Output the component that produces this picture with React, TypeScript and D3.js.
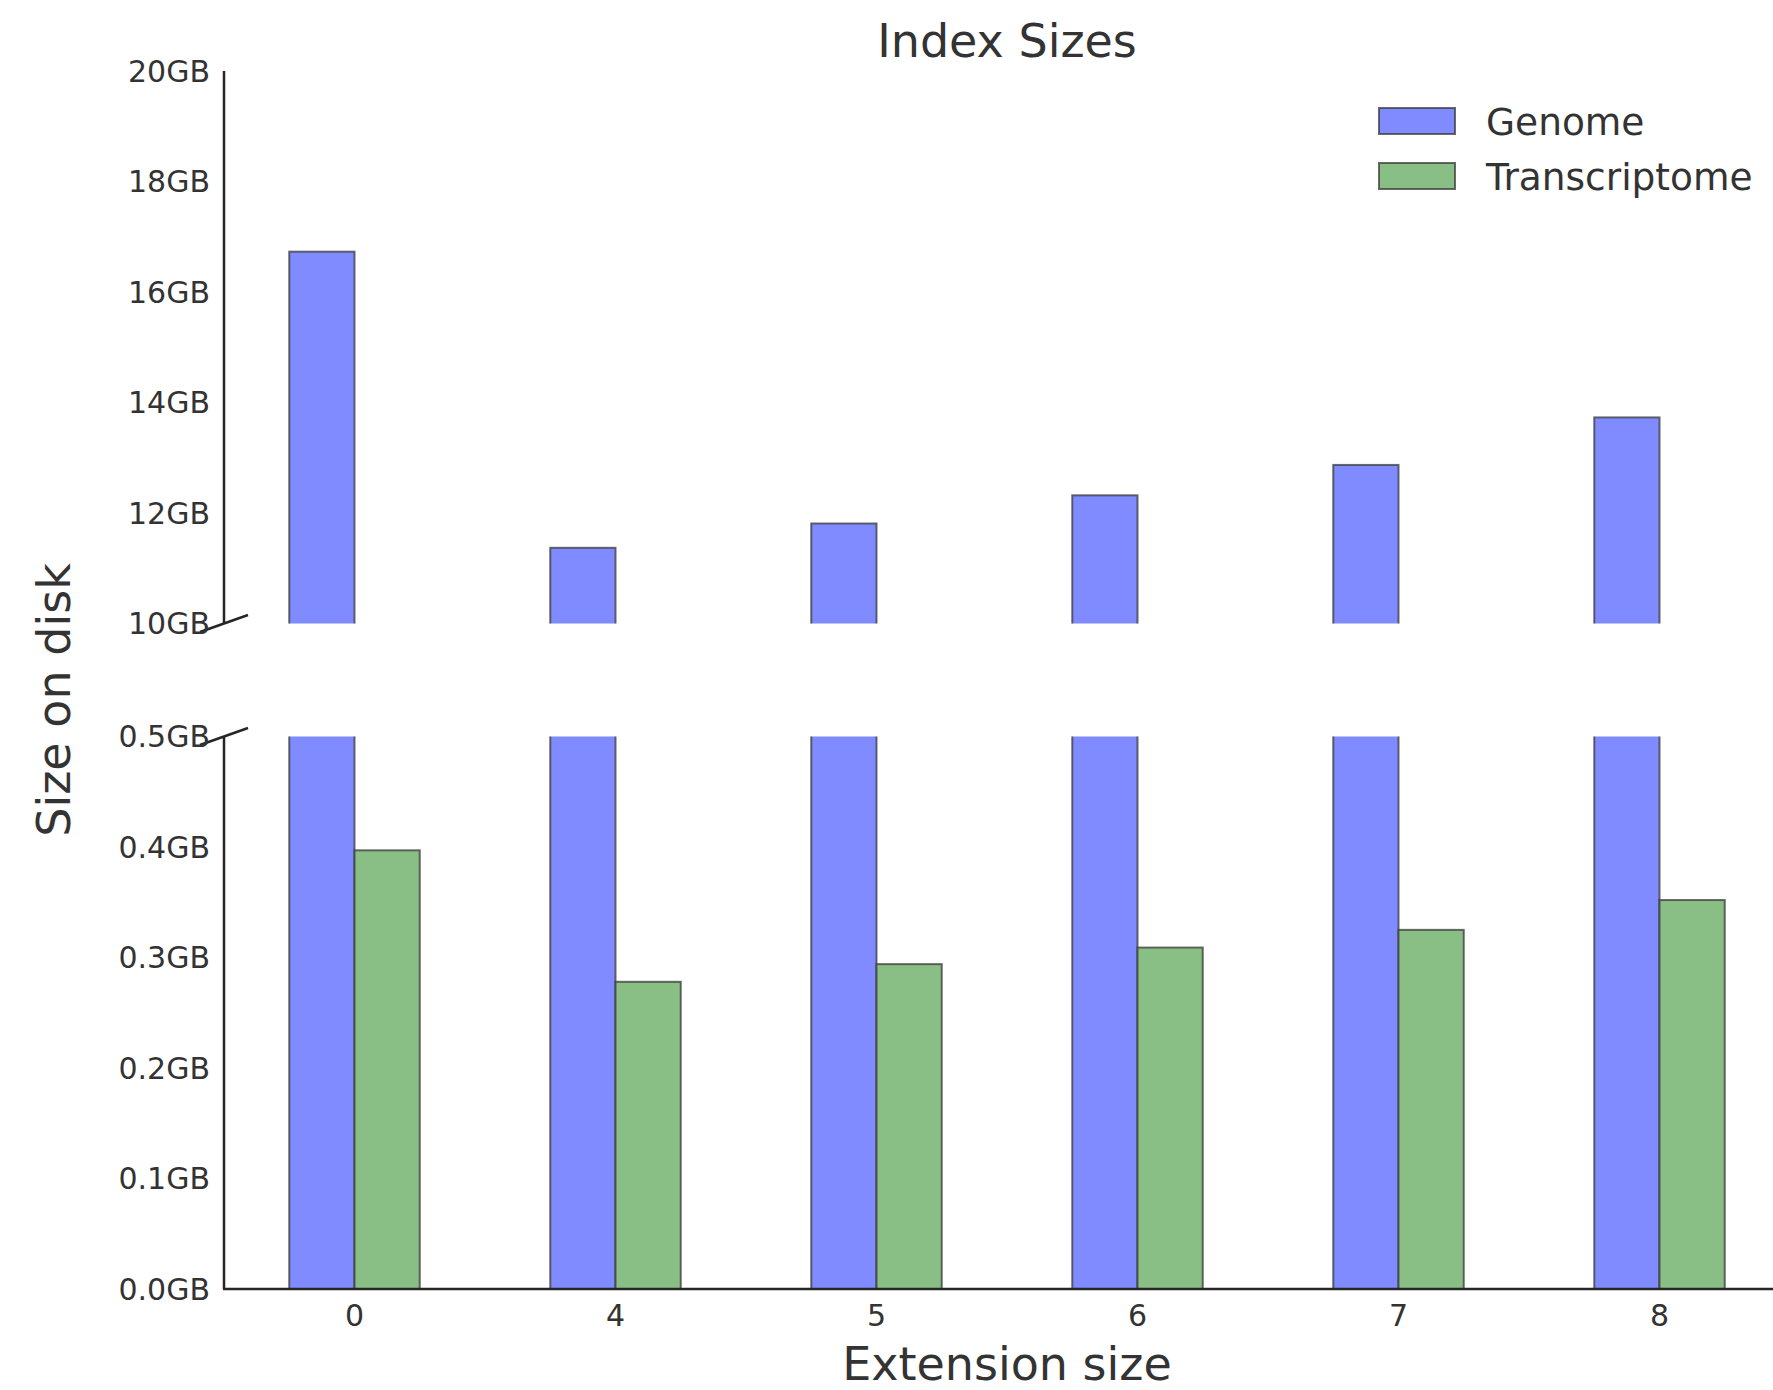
import React from "react";
import * as d3 from "d3";

// Extension sizes shown along the x axis
const categories: string[] = ["0", "4", "5", "6", "7", "8"];
// Index sizes in GB
const genomeGB: number[] = [16.73, 11.37, 11.81, 12.32, 12.87, 13.73];
const transcriptomeGB: number[] = [0.397, 0.278, 0.294, 0.309, 0.325, 0.352];
const seriesNames: string[] = ["Genome", "Transcriptome"];
const seriesColors: string[] = ["#7f8bff", "#89bf84"];
// Ticks for the two panels of the broken axis
const upperTicks: number[] = [10, 12, 14, 16, 18, 20];
const lowerTicks: number[] = [0, 0.1, 0.2, 0.3, 0.4, 0.5];

const W = 1773;
const H = 1390;
const FONT = "DejaVu Sans, Verdana, sans-serif";
const TEXT = "#333";
const AXIS = "#262626";

export default function App() {
  const left = 224;
  const step = 261;
  const x = d3
    .scaleBand<string>()
    .domain(categories)
    .range([left, left + step * categories.length])
    .paddingInner(0.5)
    .paddingOuter(0.25);
  const xs = d3.scaleBand<string>().domain(seriesNames).range([0, x.bandwidth()]);

  const upperTop = 71;
  const upperBottom = 623.5;
  const lowerTop = 736.5;
  const lowerBottom = 1289;
  const yUp = d3.scaleLinear().domain([10, 20]).range([upperBottom, upperTop]);
  const yLo = d3.scaleLinear().domain([0, 0.5]).range([lowerBottom, lowerTop]);

  const series = [genomeGB, transcriptomeGB];
  const fmtUp = (v: number) => `${d3.format("d")(v)}GB`;
  const fmtLo = (v: number) => `${d3.format(".1f")(v)}GB`;

  const bars = (y: d3.ScaleLinear<number, number>, clip: string) => (
    <g clipPath={`url(#${clip})`}>
      {categories.map((c, i) =>
        series.map((vals, s) => {
          const v = vals[i];
          const yTop = y(v);
          const yBase = y(0);
          const top = Math.min(yTop, yBase);
          const h = Math.abs(yBase - yTop);
          return (
            <rect
              key={`${c}-${s}`}
              x={(x(c) ?? 0) + (xs(seriesNames[s]) ?? 0)}
              y={top}
              width={xs.bandwidth()}
              height={h}
              fill={seriesColors[s]}
              stroke="#3a3a3a"
              strokeOpacity={0.75}
              strokeWidth={2}
            />
          );
        })
      )}
    </g>
  );

  const dx = 24;
  const dy = 8.5;
  const tickFont = 30;

  return (
    <svg
      width={W}
      height={H}
      style={{ position: "absolute", left: 0, top: 0, background: "#fff" }}
      fontFamily={FONT}
    >
      <defs>
        <clipPath id="clipUp">
          <rect x={left} y={upperTop - 5} width={W} height={upperBottom - upperTop + 5} />
        </clipPath>
        <clipPath id="clipLo">
          <rect x={left} y={lowerTop} width={W} height={lowerBottom - lowerTop + 5} />
        </clipPath>
      </defs>
      <rect width={W} height={H} fill="#fff" />

      <text x={1007} y={57} textAnchor="middle" fontSize={46} fill={TEXT}>
        Index Sizes
      </text>

      {bars(yUp, "clipUp")}
      {bars(yLo, "clipLo")}

      {/* y axes */}
      <line x1={left} x2={left} y1={upperTop} y2={upperBottom} stroke={AXIS} strokeWidth={2.5} />
      <line x1={left} x2={left} y1={lowerTop} y2={lowerBottom} stroke={AXIS} strokeWidth={2.5} />
      {/* x axis */}
      <line x1={left - 1} x2={W} y1={lowerBottom} y2={lowerBottom} stroke={AXIS} strokeWidth={2.5} />

      {/* break marks */}
      <line x1={left - dx} y1={upperBottom + dy} x2={left + dx} y2={upperBottom - dy} stroke={AXIS} strokeWidth={2.5} />
      <line x1={left - dx} y1={lowerTop + dy} x2={left + dx} y2={lowerTop - dy} stroke={AXIS} strokeWidth={2.5} />

      {upperTicks.map((t) => (
        <text key={`u${t}`} x={210} y={yUp(t)} dy="0.36em" textAnchor="end" fontSize={tickFont} fill={TEXT}>
          {fmtUp(t)}
        </text>
      ))}
      {lowerTicks.map((t) => (
        <text key={`l${t}`} x={210} y={yLo(t)} dy="0.36em" textAnchor="end" fontSize={tickFont} fill={TEXT}>
          {fmtLo(t)}
        </text>
      ))}

      {categories.map((c) => (
        <text
          key={`x${c}`}
          x={(x(c) ?? 0) + x.bandwidth() / 2}
          y={1326}
          textAnchor="middle"
          fontSize={tickFont}
          fill={TEXT}
        >
          {c}
        </text>
      ))}

      <text x={1007} y={1380} textAnchor="middle" fontSize={46} fill={TEXT}>
        Extension size
      </text>
      <text
        transform={`translate(70,700) rotate(-90)`}
        textAnchor="middle"
        fontSize={46}
        fill={TEXT}
      >
        Size on disk
      </text>

      {/* legend */}
      {seriesNames.map((n, i) => (
        <g key={n} transform={`translate(1379,${108 + i * 55})`}>
          <rect width={76} height={26} fill={seriesColors[i]} stroke="#3a3a3a" strokeOpacity={0.75} strokeWidth={2} />
          <text x={107} y={13} dy="0.36em" fontSize={37.5} fill={TEXT}>
            {n}
          </text>
        </g>
      ))}
    </svg>
  );
}
